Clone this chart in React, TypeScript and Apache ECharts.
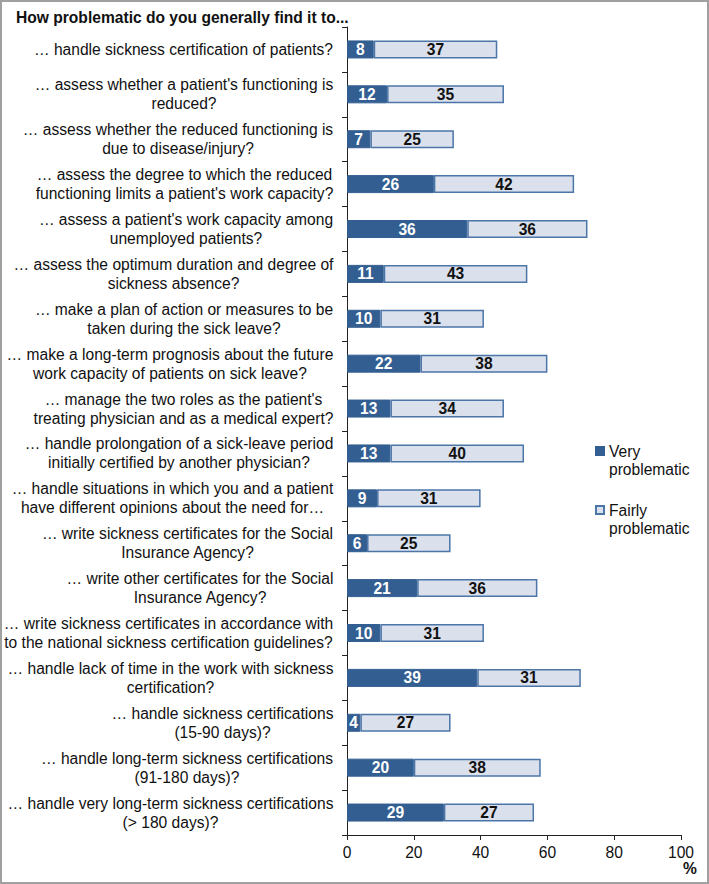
import React, { useEffect, useRef } from 'react';
import * as echarts from 'echarts';

const titleText = 'How problematic do you generally find it to...';
const categories = [
  '… handle sickness certification of patients?',
  "… assess whether a patient's functioning is\nreduced?",
  '… assess whether the reduced functioning is\ndue to disease/injury?',
  "… assess the degree to which the reduced\nfunctioning limits a patient's work capacity?",
  "… assess a patient's work capacity among\nunemployed patients?",
  '… assess the optimum duration and degree of\nsickness absence?',
  '… make a plan of action or measures to be\ntaken during the sick leave?',
  '… make a long-term prognosis about the future\nwork capacity of patients on sick leave?',
  "… manage the two roles as the patient's\ntreating physician and as a medical expert?",
  '… handle prolongation of a sick-leave period\ninitially certified by another physician?',
  '… handle situations in which you and a patient\nhave different opinions about the need for…',
  '… write sickness certificates for the Social\nInsurance Agency?',
  '… write other certificates for the Social\nInsurance Agency?',
  '… write sickness certificates in accordance with\nto the national sickness certification guidelines?',
  '… handle lack of time in the work with sickness\ncertification?',
  '… handle sickness certifications\n(15-90 days)?',
  '… handle long-term sickness certifications\n(91-180 days)?',
  '… handle very long-term sickness certifications\n(> 180 days)?',
];
const seriesNames = ['Very problematic', 'Fairly problematic'];
const veryProblematic = [8, 12, 7, 26, 36, 11, 10, 22, 13, 13, 9, 6, 21, 10, 39, 4, 20, 29];
const fairlyProblematic = [37, 35, 25, 42, 36, 43, 31, 38, 34, 40, 31, 25, 36, 31, 31, 27, 38, 27];
const xTickMin = 0;
const xTickMax = 100;
const xTickStep = 20;
const xAxisName = '%';

const FONT = '"Liberation Sans", Arial, Helvetica, sans-serif';
const FS = 15.6;

export default function App() {
  const ref = useRef<HTMLDivElement>(null);
  useEffect(() => {
    if (!ref.current) return;
    const chart = echarts.init(ref.current, null, { renderer: 'svg' });
    const canvas = document.createElement('canvas');
    const ctx = canvas.getContext('2d')!;
    ctx.font = `${FS}px ${FONT}`;
    const rich: Record<string, any> = {};
    categories.forEach((c, i) => {
      const w = Math.max(...c.split('\n').map((l) => ctx.measureText(l).width));
      rich['r' + i] = {
        width: Math.ceil(w) + 1,
        align: 'center',
        fontSize: FS,
        lineHeight: 19,
        fontFamily: FONT,
        color: '#111',
      };
    });
    const option: any = {
      animation: false,
      backgroundColor: '#fff',
      textStyle: { fontFamily: FONT },
      title: {
        text: titleText,
        left: 11,
        top: 4,
        textStyle: { fontSize: FS, fontWeight: 'bold', color: '#111', fontFamily: FONT },
      },
      graphic: [
        {
          type: 'rect',
          shape: { x: 1, y: 1, width: 707, height: 882 },
          style: { fill: 'none', stroke: '#a0a0a0', lineWidth: 2 },
          silent: true,
        },
      ],
      legend: {
        orient: 'vertical',
        left: 595,
        top: 424,
        padding: 0,
        itemGap: 5,
        itemWidth: 8,
        itemHeight: 8,
        icon: 'rect',
        formatter: (n: string) => '\n' + n.replace(' ', '\n'),
        textStyle: {
          fontSize: FS,
          lineHeight: 18,
          color: '#111',
          fontFamily: FONT,
        },
        data: seriesNames,
      },
      grid: {
        left: 347,
        right: 28,
        top: 27,
        bottom: 49,
        containLabel: false,
        outerBoundsMode: 'none',
      },
      xAxis: {
        type: 'value',
        min: xTickMin,
        max: xTickMax,
        interval: xTickStep,
        name: xAxisName,
        nameLocation: 'end',
        nameGap: 2,
        nameMoveOverlap: false,
        nameTextStyle: {
          fontSize: FS,
          fontWeight: 'bold',
          color: '#111',
          align: 'left',
          verticalAlign: 'top',
          lineHeight: 12,
          padding: [27, 0, 0, 0],
          fontFamily: FONT,
        },
        axisLine: { show: true, lineStyle: { color: '#222', width: 1 } },
        axisTick: { show: true, length: 5, lineStyle: { color: '#222' } },
        axisLabel: { fontSize: FS, lineHeight: 12, color: '#111', margin: 11, fontFamily: FONT },
        splitLine: { show: false },
      },
      yAxis: {
        type: 'category',
        inverse: true,
        data: categories,
        axisLine: { show: true, lineStyle: { color: '#222', width: 1 } },
        axisTick: { show: true, length: 5, interval: 0, lineStyle: { color: '#222' } },
        axisLabel: {
          interval: 0,
          margin: 13,
          formatter: (v: string, i: number) =>
            v
              .split('\n')
              .map((l) => `{r${i}|${l}}`)
              .join('\n'),
          rich,
        },
      },
      series: [
        {
          name: seriesNames[0],
          type: 'bar',
          stack: 'total',
          barWidth: 18,
          data: veryProblematic,
          itemStyle: { color: '#335E91', borderColor: '#335E91', borderWidth: 1 },
          label: {
            show: true,
            position: 'inside',
            color: '#fff',
            fontWeight: 'bold',
            fontSize: FS,
            fontFamily: FONT,
          },
        },
        {
          name: seriesNames[1],
          type: 'bar',
          stack: 'total',
          barWidth: 18,
          data: fairlyProblematic,
          itemStyle: { color: '#DAE0EC', borderColor: '#4C75A8', borderWidth: 1.5 },
          label: {
            show: true,
            position: 'inside',
            color: '#111',
            fontWeight: 'bold',
            fontSize: FS,
            fontFamily: FONT,
          },
        },
      ],
    };
    chart.setOption(option);
    return () => chart.dispose();
  }, []);
  return (
    <div
      ref={ref}
      style={{ position: 'absolute', left: 0, top: 0, width: 709, height: 884 }}
    />
  );
}
